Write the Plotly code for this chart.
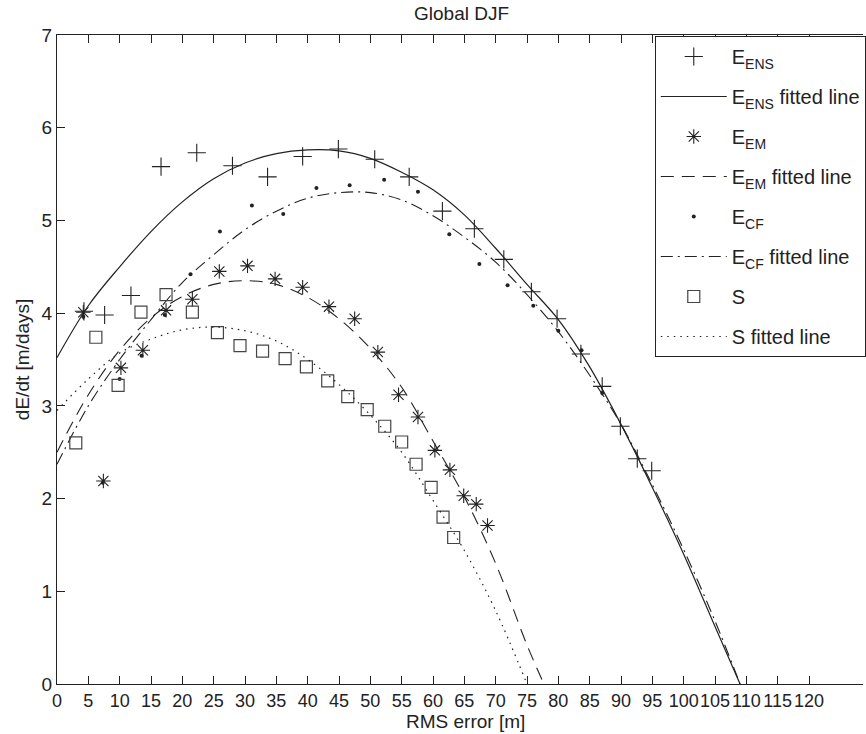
import plotly.graph_objects as go

# ---- data ----
ens_x = [4.3, 7.6, 11.8, 16.6, 22.3, 28.0, 33.6, 39.2, 44.9, 50.7, 56.2, 61.5, 66.6, 71.3, 75.7, 79.8, 83.6, 87.0, 89.9, 92.6, 94.9]
ens_y = [4.02, 3.98, 4.19, 5.58, 5.73, 5.59, 5.47, 5.69, 5.77, 5.66, 5.47, 5.10, 4.91, 4.58, 4.23, 3.94, 3.56, 3.21, 2.78, 2.43, 2.30]

em_x = [4.2, 7.4, 10.2, 13.7, 17.4, 21.6, 25.9, 30.4, 34.8, 39.2, 43.4, 47.5, 51.2, 54.5, 57.6, 60.3, 62.7, 64.9, 66.9, 68.7]
em_y = [4.01, 2.19, 3.41, 3.60, 4.03, 4.15, 4.45, 4.51, 4.37, 4.28, 4.07, 3.94, 3.58, 3.12, 2.88, 2.52, 2.31, 2.03, 1.94, 1.71]

cf_x = [4.2, 7.3, 10.0, 13.5, 17.2, 21.3, 26.0, 31.1, 36.1, 41.4, 46.7, 52.2, 57.6, 62.6, 67.4, 71.9, 76.0, 80.0, 83.7, 87.0]
cf_y = [3.96, 2.17, 3.29, 3.54, 3.98, 4.42, 4.88, 5.16, 5.07, 5.35, 5.38, 5.44, 5.31, 4.85, 4.53, 4.30, 4.08, 3.81, 3.60, 3.14]

s_x = [3.0, 6.2, 9.75, 13.4, 17.4, 21.6, 25.6, 29.2, 32.8, 36.4, 39.8, 43.2, 46.4, 49.5, 52.3, 55.0, 57.3, 59.7, 61.6, 63.3]
s_y = [2.60, 3.74, 3.22, 4.01, 4.20, 4.01, 3.79, 3.65, 3.59, 3.51, 3.42, 3.27, 3.10, 2.96, 2.78, 2.61, 2.37, 2.12, 1.80, 1.58]

# fitted lines
ens_fit_x = [0, 5, 10, 15, 20, 25, 30, 35, 40, 45, 50, 55, 60, 65, 70, 75, 80, 85, 90, 95, 100, 105, 109]
ens_fit_y = [3.52, 4.08, 4.50, 4.88, 5.20, 5.45, 5.62, 5.72, 5.76, 5.75, 5.67, 5.52, 5.33, 5.06, 4.70, 4.31, 3.93, 3.42, 2.80, 2.12, 1.40, 0.62, 0.0]

em_fit_x = [0, 5, 10, 15, 20, 25, 30, 35, 40, 45, 50, 55, 60, 65, 70, 75, 77.7]
em_fit_y = [2.50, 3.12, 3.60, 3.95, 4.18, 4.31, 4.35, 4.31, 4.17, 3.94, 3.62, 3.20, 2.62, 2.02, 1.30, 0.42, 0.0]

cf_fit_x = [0, 5, 10, 15, 20, 25, 30, 35, 40, 45, 50, 55, 60, 65, 70, 75, 80, 85, 90, 95, 100, 105, 109]
cf_fit_y = [2.37, 3.00, 3.50, 3.93, 4.33, 4.63, 4.90, 5.10, 5.24, 5.30, 5.30, 5.22, 5.05, 4.82, 4.55, 4.20, 3.80, 3.33, 2.80, 2.15, 1.45, 0.68, 0.0]

s_fit_x = [0, 5, 10, 15, 20, 25, 30, 35, 40, 45, 50, 55, 60, 65, 70, 75]
s_fit_y = [2.95, 3.29, 3.57, 3.72, 3.82, 3.85, 3.81, 3.70, 3.50, 3.23, 2.90, 2.50, 1.98, 1.44, 0.79, 0.0]

x_ticks = list(range(0, 125, 5))
y_ticks = [0, 1, 2, 3, 4, 5, 6, 7]

FONT = "Liberation Sans, Arial, sans-serif"
INK = "#222222"

fig = go.Figure()

fig.add_trace(go.Scatter(x=ens_x, y=ens_y, mode="markers", name="E<sub>ENS</sub>",
                         legendgroup="a",
                         marker=dict(symbol="cross-thin", size=13, line=dict(color=INK, width=1.1))))
fig.add_trace(go.Scatter(x=ens_fit_x, y=ens_fit_y, mode="lines", name="E<sub>ENS</sub> fitted line",
                         legendgroup="b", line=dict(color=INK, width=1.2, shape="spline")))
fig.add_trace(go.Scatter(x=em_x, y=em_y, mode="markers", name="E<sub>EM</sub>",
                         legendgroup="c",
                         marker=dict(symbol="asterisk", size=12, line=dict(color=INK, width=1.1))))
fig.add_trace(go.Scatter(x=em_fit_x, y=em_fit_y, mode="lines", name="E<sub>EM</sub> fitted line",
                         legendgroup="d", line=dict(color=INK, width=1.1, dash="13px,8px", shape="spline")))
fig.add_trace(go.Scatter(x=cf_x, y=cf_y, mode="markers", name="E<sub>CF</sub>",
                         legendgroup="e",
                         marker=dict(symbol="circle", size=4, color=INK)))
fig.add_trace(go.Scatter(x=cf_fit_x, y=cf_fit_y, mode="lines", name="E<sub>CF</sub> fitted line",
                         legendgroup="f", line=dict(color=INK, width=1.1, dash="12px,5px,2px,5px", shape="spline")))
fig.add_trace(go.Scatter(x=s_x, y=s_y, mode="markers", name="S",
                         legendgroup="g",
                         marker=dict(symbol="square-open", size=12, color="#444444", line=dict(width=1.2))))
fig.add_trace(go.Scatter(x=s_fit_x, y=s_fit_y, mode="lines", name="S fitted line",
                         legendgroup="h", line=dict(color=INK, width=1.2, dash="1.5px,5px", shape="spline")))

W, H = 866, 734
L, R, T, B = 57, 0, 35, 50
pw = W - L - R
ph = H - T - B
xmax = pw / 6.29

fig.update_layout(
    width=W, height=H,
    margin=dict(l=L, r=R, t=T, b=B),
    plot_bgcolor="white", paper_bgcolor="white",
    font=dict(family=FONT, size=18, color=INK),
    showlegend=True,
    legend=dict(
        x=(657 - L) / pw, y=1 - (36 - T) / ph, xanchor="left", yanchor="top",
        bgcolor="white", bordercolor=INK, borderwidth=1,
        font=dict(family=FONT, size=20, color=INK),
        traceorder="grouped", tracegroupgap=11, itemwidth=66,
    ),
    xaxis=dict(
        range=[0, xmax], tickvals=x_ticks, ticktext=[str(v) for v in x_ticks],
        tickangle=0,
        ticks="inside", ticklen=8, tickcolor=INK, tickwidth=1,
        showline=True, linecolor=INK, linewidth=1, mirror="ticks",
        showgrid=False, zeroline=False,
        tickfont=dict(family=FONT, size=18, color=INK),
    ),
    yaxis=dict(
        range=[0, 7], tickvals=y_ticks,
        ticks="inside", ticklen=8, tickcolor=INK, tickwidth=1,
        showline=True, linecolor=INK, linewidth=1, mirror=False,
        showgrid=False, zeroline=False,
        tickfont=dict(family=FONT, size=19, color=INK),
    ),
    annotations=[
        dict(text="Global DJF", xref="paper", yref="paper", x=(463 - L) / pw, y=1 + (T - 14) / ph,
             xanchor="center", yanchor="middle", showarrow=False, font=dict(family=FONT, size=19, color=INK)),
        dict(text="RMS error [m]", xref="paper", yref="paper", x=(467 - L) / pw, y=-(721 - (H - B)) / ph,
             xanchor="center", yanchor="middle", showarrow=False, font=dict(family=FONT, size=19, color=INK)),
        dict(text="dE/dt [m/days]", xref="paper", yref="paper", x=(22 - L) / pw, y=(H - B - 360) / ph,
             xanchor="center", yanchor="middle", textangle=-90, showarrow=False,
             font=dict(family=FONT, size=19, color=INK)),
    ],
)

fig.write_html("out.html")
